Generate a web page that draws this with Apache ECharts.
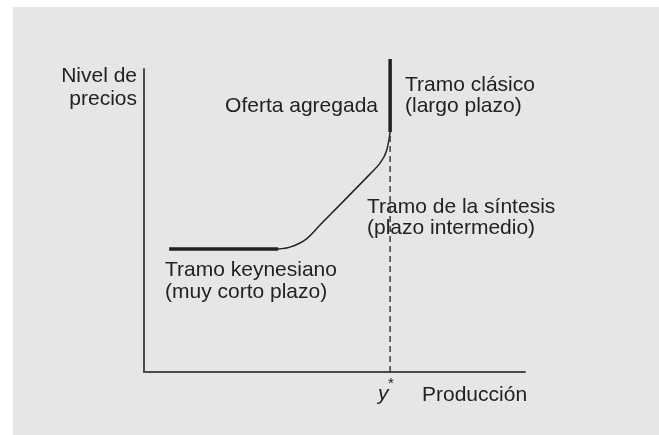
<!DOCTYPE html>
<html>
<head>
<meta charset="utf-8">
<script src="https://cdn.jsdelivr.net/npm/echarts@6/dist/echarts.min.js"></script>
<style>
html,body{margin:0;padding:0;background:#fff;}
#c{width:659px;height:435px;}
</style>
</head>
<body>
<div id="c"></div>
<script>
// Conceptual units: x = output (0-100), y = price level (0-100)
const yStar = 64.6;
const keynesX = [6.6, 35.2];
const keynesY = 40.6;
const synthX = [35.2, 38.3, 42.5, 46.2, 59.3, 62.0, 63.6, 64.6];
const synthY = [40.6, 41.2, 43.8, 48.5, 65.3, 69.0, 72.8, 79.2];
const classicY = [79.2, 103.3];
const dashY = [0, 79.2];

const txt = '#222222';
const font = '"Liberation Sans", Arial, Helvetica, sans-serif';
const fs = 21;

function T(text, x, y, align, extra) {
  return {
    type: 'text', x: x, y: y, z: 20,
    style: Object.assign({
      text: text, fill: txt, font: fs + 'px ' + font,
      textAlign: align, textVerticalAlign: 'middle'
    }, extra || {})
  };
}

const chart = echarts.init(document.getElementById('c'), null, {renderer: 'canvas'});
chart.setOption({
  animation: false,
  backgroundColor: '#ffffff',
  grid: {left: 144, top: 69, width: 381, height: 303},
  xAxis: {
    type: 'value', min: 0, max: 100,
    axisLine: {show: true, onZero: false, lineStyle: {color: '#4a4a4a', width: 2}},
    axisTick: {show: false}, axisLabel: {show: false}, splitLine: {show: false}
  },
  yAxis: {
    type: 'value', min: 0, max: 100,
    axisLine: {show: true, onZero: false, lineStyle: {color: '#4a4a4a', width: 2}},
    axisTick: {show: false}, axisLabel: {show: false}, splitLine: {show: false}
  },
  graphic: [
    {type: 'rect', shape: {x: 13, y: 7, width: 700, height: 500}, style: {fill: '#e6e6e6'}, z: -100, silent: true},
    T('Nivel de', 137, 76, 'right'),
    T('precios', 137, 99, 'right'),
    T('Oferta agregada', 378, 106, 'right'),
    T('Tramo clásico', 405, 85, 'left'),
    T('(largo plazo)', 405, 106, 'left'),
    T('Tramo de la síntesis', 367, 207, 'left'),
    T('(plazo intermedio)', 367, 228, 'left'),
    T('Tramo keynesiano', 165, 270, 'left'),
    T('(muy corto plazo)', 165, 292, 'left'),
    T('y', 378, 394, 'left', {font: 'italic ' + fs + 'px ' + font}),
    T('*', 388, 384, 'left', {font: '15px ' + font}),
    T('Producción', 422, 395, 'left')
  ],
  series: [
    {
      type: 'line', symbol: 'none', clip: false,
      data: keynesX.map(x => [x, keynesY]),
      lineStyle: {color: '#222', width: 3.5, cap: 'butt'}
    },
    {
      type: 'line', symbol: 'none', smooth: 0.35, clip: false,
      data: synthX.map((x, i) => [x, synthY[i]]),
      lineStyle: {color: '#222', width: 1.5}
    },
    {
      type: 'line', symbol: 'none', clip: false,
      data: classicY.map(y => [yStar, y]),
      lineStyle: {color: '#222', width: 3.5, cap: 'butt'}
    },
    {
      type: 'line', symbol: 'none', clip: false,
      data: dashY.map(y => [yStar, y]),
      lineStyle: {color: '#333', width: 1.4, type: [6, 4]}
    }
  ]
});
</script>
</body>
</html>
